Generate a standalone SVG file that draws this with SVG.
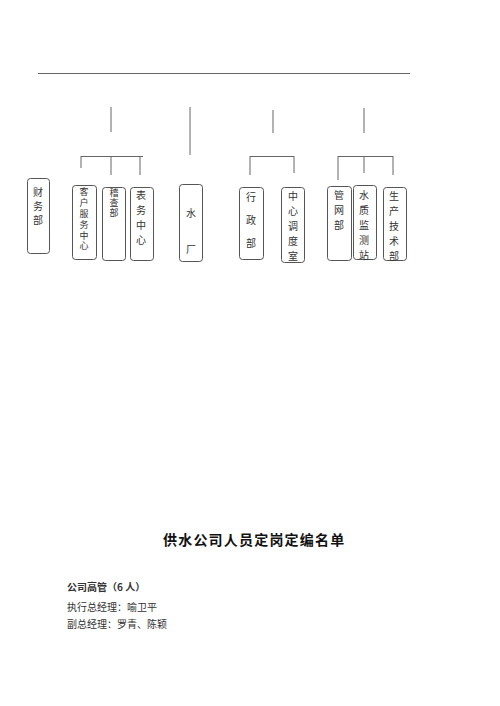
<svg xmlns="http://www.w3.org/2000/svg" width="500" height="706" viewBox="0 0 500 706">
<style>
.ln{stroke:#666;stroke-width:1;fill:none}
.bx{fill:#fff;stroke:#555;stroke-width:1}
.t{font-family:"Noto Sans CJK SC","Noto Sans",sans-serif;font-size:10px;fill:#333;writing-mode:vertical-rl;text-orientation:upright}
.s{font-size:9px}
.ti{font-family:"Noto Sans CJK SC",sans-serif;font-size:14px;font-weight:bold;fill:#111;letter-spacing:1.2px}
.b{font-family:"Noto Sans CJK SC",sans-serif;font-size:10px;fill:#333}
</style>
<rect width="500" height="706" fill="#fff"/>
<g id="connectors">
<path class="ln" d="M38 73.5H410"/>
<path class="ln" d="M111 107V132M190 107V155M273 110V133M364 108V133"/>
<path class="ln" d="M81 156.5H143M81 156V168M111 156V175M140 156V175"/>
<path class="ln" d="M250 156.5H294M250 156V175M294 156V173"/>
<path class="ln" d="M338 156.5H393M338 156V180M364 156V173M393 156V175"/>
</g>
<g id="n-caiwu"><rect class="bx" x="27.5" y="178.5" width="22" height="75" rx="3"/>
<text class="t" x="38" y="187" letter-spacing="4">财务部</text></g>
<g id="n-kehu"><rect class="bx" x="72.5" y="185.5" width="24" height="74" rx="3"/>
<text class="t s" x="84" y="187.5" letter-spacing="1.8">客户服务中心</text></g>
<g id="n-jicha"><rect class="bx" x="102.5" y="187.5" width="23" height="73" rx="3"/>
<text class="t s" x="114" y="188.5" letter-spacing="1">稽查部</text></g>
<g id="n-biaowu"><rect class="bx" x="130.5" y="187.5" width="23" height="73" rx="3"/>
<text class="t" x="141" y="190" letter-spacing="5">表务中心</text></g>
<g id="n-shuichang"><rect class="bx" x="179.5" y="184.5" width="23" height="77" rx="3"/>
<text class="t" x="191" y="208" letter-spacing="26">水厂</text></g>
<g id="n-xingzheng"><rect class="bx" x="239.5" y="187.5" width="24" height="72" rx="3"/>
<text class="t" x="251" y="192" letter-spacing="13">行政部</text></g>
<g id="n-diaodu"><rect class="bx" x="281.5" y="187.5" width="23" height="75" rx="3"/>
<text class="t" x="293" y="191" letter-spacing="5">中心调度室</text></g>
<g id="n-guanwang"><rect class="bx" x="327.5" y="186.5" width="24" height="74" rx="3"/>
<text class="t" x="339" y="190" letter-spacing="5">管网部</text></g>
<g id="n-jiance"><rect class="bx" x="353.5" y="185.5" width="23" height="74" rx="3"/>
<text class="t" x="364" y="190" letter-spacing="5">水质监测站</text></g>
<g id="n-shengchan"><rect class="bx" x="383.5" y="187.5" width="23" height="73" rx="3"/>
<text class="t" x="394" y="191" letter-spacing="5">生产技术部</text></g>
<text class="ti" x="163" y="545">供水公司人员定岗定编名单</text>
<text class="b" x="67" y="591" font-weight="bold" fill="#111">公司高管（6 人）</text>
<text class="b" x="67" y="611">执行总经理：喻卫平</text>
<text class="b" x="67" y="628">副总经理：罗青、陈颖</text>
</svg>
